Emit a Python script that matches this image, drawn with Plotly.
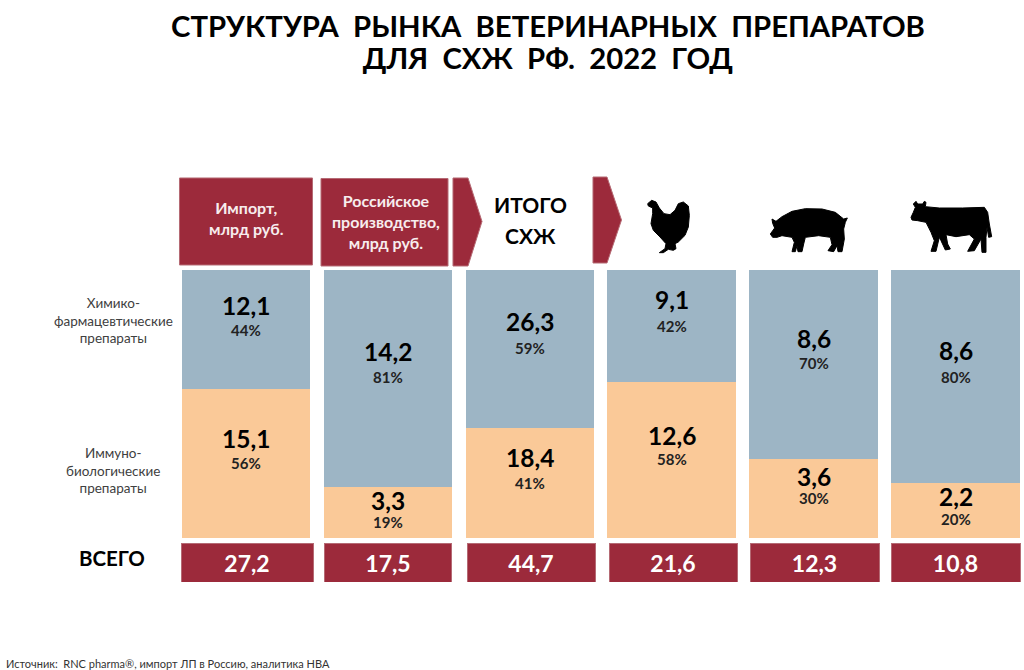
import plotly.graph_objects as go

W, H = 1024, 670

# ---- data ----
categories = ["Импорт", "Российское производство", "Итого СХЖ", "Птица", "Свиньи", "КРС"]
chem_values = [12.1, 14.2, 26.3, 9.1, 8.6, 8.6]
immuno_values = [15.1, 3.3, 18.4, 12.6, 3.6, 2.2]
chem_share = ["44%", "81%", "59%", "42%", "70%", "80%"]
immuno_share = ["56%", "19%", "41%", "58%", "30%", "20%"]
totals = [27.2, 17.5, 44.7, 21.6, 12.3, 10.8]

RED = "#9C2A3B"
EDGE = "#B56A74"
BLUE = "#9DB5C5"
ORANGE = "#FAC998"
FONT = "Lato"

# ---- page geometry (pixels) ----
X0, STEP = 246.0, 141.9
BAR_W = 128.5
def px_x(p): return (p - X0) / STEP
def fx(p): return p / W
def fy(p): return 1 - p / H
def rc(v): return f"{v:.1f}".replace(".", ",")

idx = list(range(len(categories)))
fmt = lambda vals: [rc(v) for v in vals]

fig = go.Figure()
fig.add_bar(x=idx, y=immuno_values, name="Иммуно-биологические препараты", marker_color=ORANGE,
            width=BAR_W / STEP, marker_line_width=0, hoverinfo="skip")
fig.add_bar(x=idx, y=chem_values, name="Химико-фармацевтические препараты", marker_color=BLUE,
            width=BAR_W / STEP, marker_line_width=0, hoverinfo="skip")

# totals row: own y axis, normalised to a full-height cell
total_centers = [247, 388, 531, 673, 814.5, 955.5]
total_widths = [132, 127, 128, 128, 129, 129]
fig.add_bar(x=[px_x(c) for c in total_centers], y=totals, yaxis="y2", marker_color=RED,
            width=[w / STEP for w in total_widths], marker_line=dict(color=EDGE, width=1),
            text=fmt(totals), textposition="inside", insidetextanchor="middle",
            textangle=0, constraintext="none",
            textfont=dict(family=FONT, size=23, color="white", weight="bold"), hoverinfo="skip")

ann = []
def text(x, y, s, size, color="black", bold=False, **kw):
    s = f"<b>{s}</b>" if bold else s
    ann.append(dict(x=x, y=y, text=s, showarrow=False, xanchor=kw.pop("xanchor", "center"),
                    yanchor="middle", font=dict(family=FONT, size=size, color=color), **kw))

# value + share labels, anchored at each segment's midpoint
val_shift_blue = [24, 27, 27, 27, 26, 26]
pct_shift_blue = [0, 2, 1, 0, 1, 0]
val_shift_or = [25, 12, 25, 25, 22, 14]
pct_shift_or = [1, -9, 0, 1, 0, -8]
for i in idx:
    tot = chem_values[i] + immuno_values[i]
    o = immuno_values[i] / tot * 100
    for mid, v, p, vs, ps in (
        ((100 + o) / 2, chem_values[i], chem_share[i], val_shift_blue[i], pct_shift_blue[i]),
        (o / 2, immuno_values[i], immuno_share[i], val_shift_or[i], pct_shift_or[i]),
    ):
        text(i, mid, rc(v), 24.5, bold=True, xref="x", yref="y", yshift=vs)
        text(i, mid, p, 15, color="#222222", bold=True, xref="x", yref="y", yshift=ps)

def ptext(px, py, s, size, **kw):
    text(fx(px), fy(py), s, size, xref="paper", yref="paper", **kw)

TITLE_SIZE = 29.3
title_lines = ["СТРУКТУРА  РЫНКА  ВЕТЕРИНАРНЫХ  ПРЕПАРАТОВ", "ДЛЯ  СХЖ  РФ.  2022  ГОД"]
ptext(548, 42, "<br>".join(f'<span style="font-size:{TITLE_SIZE}px">{t}</span>' for t in title_lines),
      24.6, bold=True)
ptext(246, 218, "Импорт,<br>млрд руб.", 16, color="#F7EDEE", bold=True)
ptext(386, 221.5, "Российское<br>производство,<br>млрд руб.", 16, color="#F7EDEE", bold=True)
ptext(530, 204, "ИТОГО", 21, bold=True)
ptext(530, 236, "СХЖ", 21, bold=True)
ptext(113, 320, "Химико-<br>фармацевтические<br>препараты", 13.5, color="#404040")
ptext(113, 470, "Иммуно-<br>биологические<br>препараты", 13.5, color="#404040")
ptext(112, 558, "ВСЕГО", 20.5, bold=True)
ptext(4, 663, "Источник:  RNC pharma®, импорт ЛП в Россию, аналитика НВА", 11, color="#333333", xanchor="left")

# ---- header shapes and silhouettes ----
shapes = []
def path(pts, origin=(0, 0), k=1.0, color=RED, edge=None, lw=0):
    d = "M" + " L".join(f"{fx(origin[0] + a * k):.5f},{fy(origin[1] + b * k):.5f}" for a, b in pts) + " Z"
    shapes.append(dict(type="path", path=d, xref="paper", yref="paper", fillcolor=color,
                       line=dict(color=edge or color, width=lw), layer="above"))

path([(179.5, 178), (312.5, 178), (312.5, 265), (179.5, 265)], edge=EDGE, lw=1)
path([(321, 178.5), (448, 178.5), (448, 266), (321, 266)], edge=EDGE, lw=1)
path([(453, 178), (468, 178), (482, 221.5), (468, 266), (453, 266)], edge=EDGE, lw=1)
path([(593, 177), (607, 177), (621.5, 220), (607, 263), (593, 263)], edge=EDGE, lw=1)

chicken = [(23,35),(35,25),(48,30),(58,48),(72,65),(90,68),(105,55),(115,35),(130,30),(145,42),(148,70),
           (145,105),(135,130),(115,150),(105,155),(108,170),(100,175),(85,172),(70,182),(58,182),(75,170),
           (78,155),(60,135),(40,115),(33,95),(38,65),(38,48),(25,42)]
pig = [(25,90),(38,72),(32,58),(30,45),(42,52),(60,38),(90,22),(130,14),(180,15),(220,25),(245,45),(256,42),
       (250,55),(245,75),(247,105),(240,143),(228,143),(225,125),(215,143),(198,140),(210,122),(205,100),
       (170,95),(130,100),(125,120),(120,143),(108,143),(105,125),(100,143),(90,143),(97,115),(90,100),
       (60,95),(45,100),(32,100)]
cow = [(15,70),(22,55),(28,40),(22,30),(30,22),(35,30),(50,30),(55,22),(60,25),(58,38),(100,42),(170,42),
       (235,40),(245,55),(250,90),(257,128),(248,130),(243,100),(240,130),(240,175),(228,175),(225,135),
       (205,170),(185,172),(205,135),(190,122),(150,128),(120,122),(125,150),(133,165),(118,168),(105,140),
       (100,130),(90,172),(75,172),(85,140),(75,115),(60,85),(35,80),(18,78)]
path(chicken, (640, 192), 1/3, "black", lw=1)
path(pig, (762, 204), 1/3, "black", lw=1)
path(cow, (906, 194), 1/3, "black", lw=1)

fig.update_layout(
    width=W, height=H, margin=dict(l=0, r=0, t=0, b=0), paper_bgcolor="white", plot_bgcolor="rgba(0,0,0,0)",
    barmode="stack", barnorm="percent", showlegend=False, annotations=ann, shapes=shapes,
    xaxis=dict(range=[px_x(0), px_x(W)], visible=False, fixedrange=True),
    yaxis=dict(range=[0, 100], domain=[fy(538), fy(270)], visible=False, fixedrange=True),
    yaxis2=dict(range=[0, 100], domain=[fy(582), fy(543)], visible=False, fixedrange=True, anchor="x"),
)
fig.write_html("out.html", config={"displayModeBar": False},
               post_script='document.body.style.margin="0";document.body.style.overflow="hidden";')
